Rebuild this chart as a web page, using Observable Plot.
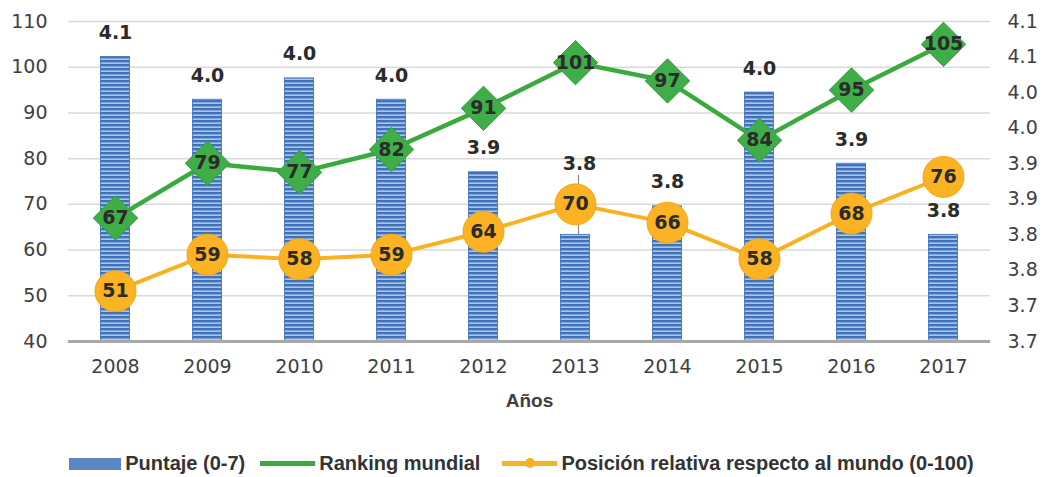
<!DOCTYPE html>
<html>
<head>
<meta charset="utf-8">
<script src="https://cdn.jsdelivr.net/npm/d3@7"></script>
<script src="https://cdn.jsdelivr.net/npm/@observablehq/plot@0.6"></script>
<style>
  html, body { margin: 0; padding: 0; background: #fff; }
  #chart svg { display: block; }
  .legend { display: flex; justify-content: center; align-items: center; height: 37px; margin-top: 5px;
    font-family: "Liberation Sans", Arial, sans-serif; font-weight: bold; font-size: 20px; color: #333; }
  .legend .item { display: flex; align-items: center; }
  .sw-bar { width: 52px; height: 12px; background: #5b87c5; margin-right: 4px; }
  .sw-line { position: relative; width: 55px; height: 5px; margin-right: 4px; }
  .sw-dot { position: absolute; left: 23px; top: -3px; width: 10px; height: 10px; border-radius: 50%; background: #f7b221; }
</style>
</head>
<body>
<div id="chart"></div>
<div class="legend">
  <div class="item"><span class="sw-bar"></span>Puntaje (0-7)</div>
  <div class="item" style="margin-left:15px"><span class="sw-line" style="background:#3aaa3e"></span>Ranking mundial</div>
  <div class="item" style="margin-left:22px"><span class="sw-line" style="background:#f7b221"><span class="sw-dot"></span></span>Posición relativa respecto al mundo (0-100)</div>
</div>
<script>
const years = ["2008", "2009", "2010", "2011", "2012", "2013", "2014", "2015", "2016", "2017"];
const puntaje = [4.05, 3.99, 4.02, 3.99, 3.888, 3.80, 3.84, 4.00, 3.90, 3.80];
const puntajeLabels = ["4.1", "4.0", "4.0", "4.0", "3.9", "3.8", "3.8", "4.0", "3.9", "3.8"];
const ranking = [67, 79, 77, 82, 91, 101, 97, 84, 95, 105];
const posicion = [51, 59, 58, 59, 64, 70, 66, 58, 68, 76];
const leftTicks = [40, 50, 60, 70, 80, 90, 100, 110];
const rightTicks = [3.65, 3.70, 3.75, 3.80, 3.85, 3.90, 3.95, 4.00, 4.05, 4.10];
const rightTickLabels = ["3.7", "3.7", "3.8", "3.8", "3.9", "3.9", "4.0", "4.0", "4.1", "4.1"];

const leftMin = 40, leftMax = 110;
const rightMin = rightTicks[0], rightMax = rightTicks[rightTicks.length - 1];
const toLeft = v => leftMin + (v - rightMin) / (rightMax - rightMin) * (leftMax - leftMin);

const rows = years.map((year, i) => ({
  year, puntaje: toLeft(puntaje[i]), label: puntajeLabels[i],
  ranking: ranking[i], posicion: posicion[i]
}));
const moved = rows.filter(d => d.year === "2013");
const regular = rows.filter(d => d.year !== "2013");

const green = "#3aaa3e", greenFill = "#3fae48", orange = "#f7b221", orangeFill = "#fbb324";
const labelColor = "#2b2b2b";
const rightTickLeft = rightTicks.map(toLeft);

const chart = Plot.plot({
  width: 1043, height: 440,
  marginTop: 21, marginBottom: 99, marginLeft: 68, marginRight: 53,
  x: { type: "band", domain: years, padding: 0 },
  y: { domain: [leftMin, leftMax] },
  style: { fontFamily: "DejaVu Sans, sans-serif", fontSize: "19px", color: "#404040", background: "#fff" },
  marks: [
    Plot.ruleY(leftTicks.slice(1), { stroke: "#d9d9d9", strokeWidth: 1.5 }),
    Plot.barY(rows, { x: "year", y1: leftMin, y2: "puntaje", fill: "url(#stripes)", stroke: "#3b6db5", strokeWidth: 0.8, insetLeft: 31.5, insetRight: 31.5 }),
    Plot.ruleY([leftMin], { stroke: "#a8a8a8", strokeWidth: 3 }),
    Plot.ruleX(moved, { x: "year", y1: "puntaje", y2: d => d.puntaje + 13, dx: 3, stroke: "#8c8c8c", strokeWidth: 1.2 }),
    Plot.text(regular, { x: "year", y: "puntaje", text: "label", dy: -24, fontWeight: "bold", fill: labelColor, fontSize: 19 }),
    Plot.text(moved, { x: "year", y: "puntaje", text: "label", dy: -71, dx: 4, fontWeight: "bold", fill: labelColor, fontSize: 19 }),
    Plot.line(rows, { x: "year", y: "ranking", stroke: green, strokeWidth: 4.5 }),
    Plot.dot(rows, { x: "year", y: "ranking", symbol: "diamond2", r: 20, fill: greenFill, stroke: "#33a03a", strokeWidth: 1 }),
    Plot.text(rows, { x: "year", y: "ranking", text: d => String(d.ranking), fontWeight: "bold", fill: labelColor, fontSize: 19 }),
    Plot.line(rows, { x: "year", y: "posicion", stroke: orange, strokeWidth: 4 }),
    Plot.dot(rows, { x: "year", y: "posicion", symbol: "circle", r: 20.5, fill: orangeFill, stroke: "#f0a818", strokeWidth: 1 }),
    Plot.text(rows, { x: "year", y: "posicion", text: d => String(d.posicion), fontWeight: "bold", fill: labelColor, fontSize: 19 }),
    Plot.axisY({ ticks: leftTicks, tickSize: 0, tickPadding: 21, label: null, fontSize: 19 }),
    Plot.axisY({
      anchor: "right", ticks: rightTickLeft, tickSize: 0, tickPadding: 17, label: null, fontSize: 19,
      tickFormat: v => {
        let best = 0;
        rightTickLeft.forEach((t, i) => { if (Math.abs(t - v) < Math.abs(rightTickLeft[best] - v)) best = i; });
        return rightTickLabels[best];
      }
    }),
    Plot.axisX({ tickSize: 0, tickPadding: 18, label: null, fontSize: 19 }),
    Plot.text(["Años"], { frameAnchor: "bottom", dy: 65, text: d => d, fontWeight: "bold", fontFamily: "Liberation Sans, Arial, sans-serif", fontSize: 19, fill: "#404040" })
  ]
});

const ns = "http://www.w3.org/2000/svg";
const defs = document.createElementNS(ns, "defs");
defs.innerHTML = '<pattern id="stripes" patternUnits="userSpaceOnUse" width="8" height="4">' +
  '<rect width="8" height="4" fill="#3e72bc"/>' +
  '<rect y="2.5" width="8" height="1.3" fill="#c6d7ee"/></pattern>';
chart.insertBefore(defs, chart.firstChild);
document.getElementById("chart").appendChild(chart);
</script>
</body>
</html>
